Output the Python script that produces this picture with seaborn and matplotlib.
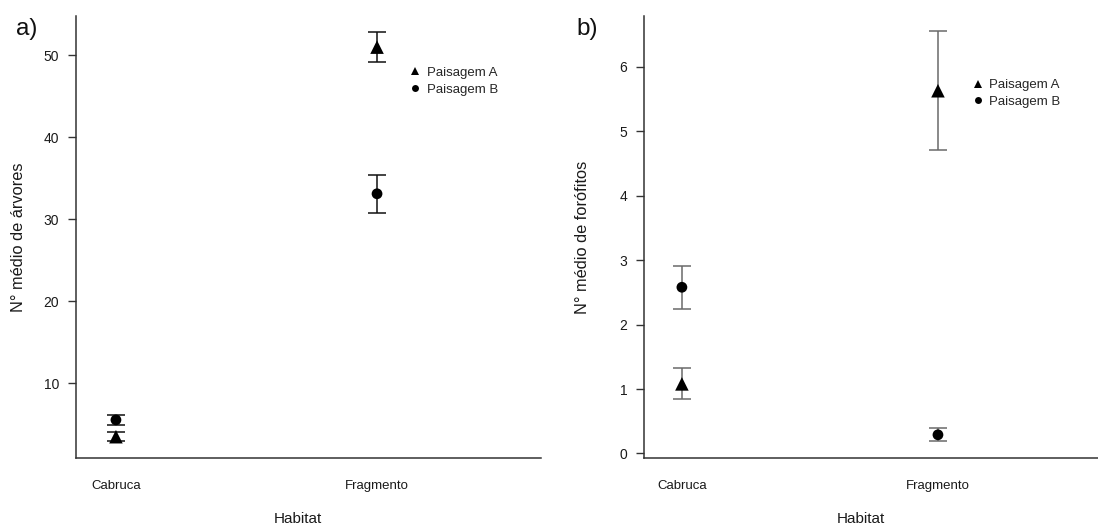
import matplotlib
matplotlib.use("Agg")
import matplotlib.pyplot as plt
from matplotlib.lines import Line2D
import seaborn as sns
import pandas as pd

# ---- data ----
habitats = ["Cabruca", "Fragmento"]
landscapes = ["Paisagem A", "Paisagem B"]

arvores_A_mean = [3.45, 51.0]
arvores_A_err = [0.55, 1.8]
arvores_B_mean = [5.5, 33.1]
arvores_B_err = [0.6, 2.3]

forofitos_A_mean = [1.08, 5.63]
forofitos_A_err = [0.24, 0.92]
forofitos_B_mean = [2.58, 0.29]
forofitos_B_err = [0.33, 0.10]

yticks_a = [10, 20, 30, 40, 50]
yticks_b = [0, 1, 2, 3, 4, 5, 6]

sns.set_theme(style="white")
plt.rcParams["font.family"] = ["Liberation Sans", "DejaVu Sans"]

fig = plt.figure(figsize=(10.98, 5.31), dpi=100)
W, H = 1098, 531

def make_axes(x0, x1, y_top, y_bot):
    return fig.add_axes([x0 / W, (H - y_bot) / H, (x1 - x0) / W, (y_bot - y_top) / H])

ax_a = make_axes(76, 541, 16, 458)
ax_b = make_axes(644, 1098, 16, 458)

markers = {"Paisagem A": "^", "Paisagem B": "o"}
sizes = {"Paisagem A": 95, "Paisagem B": 60}


def panel(ax, a_mean, a_err, b_mean, b_err, err_color, ylim, yticks, xlim,
          ylabel, letter, leg_xy, ylab_x, letter_x):
    df = pd.DataFrame({
        "Habitat": habitats * 2,
        "Paisagem": [landscapes[0]] * 2 + [landscapes[1]] * 2,
        "mean": list(a_mean) + list(b_mean),
        "err": list(a_err) + list(b_err),
    })
    # error bars
    for lab in landscapes:
        sub = df[df["Paisagem"] == lab]
        ax.errorbar(sub["Habitat"], sub["mean"], yerr=sub["err"], fmt="none",
                    ecolor=err_color, elinewidth=1.1, capsize=6.2,
                    capthick=1.1, zorder=2)
    sns.scatterplot(data=df, x="Habitat", y="mean", style="Paisagem",
                    size="Paisagem", sizes=sizes, markers=markers,
                    color="black", edgecolor="none", linewidth=0,
                    legend=False, ax=ax, zorder=3)
    ax.set_xlim(*xlim)
    ax.set_ylim(*ylim)
    ax.set_yticks(yticks)
    ax.set_xticks([0, 1])
    ax.set_xticklabels(habitats)
    for s in ["top", "right"]:
        ax.spines[s].set_visible(False)
    for s in ["left", "bottom"]:
        ax.spines[s].set_color("#333333")
        ax.spines[s].set_linewidth(1.1)
    ax.tick_params(axis="y", which="both", left=True, length=6, width=1,
                   color="#333333", pad=6, labelsize=10, labelcolor="#1a1a1a")
    ax.tick_params(axis="x", which="both", bottom=False, length=0, pad=16,
                   labelsize=9.5, labelcolor="#1a1a1a")
    ax.set_xlabel("Habitat", fontsize=11, color="#1a1a1a")
    ax.set_ylabel(ylabel, fontsize=11.8, color="#1a1a1a")
    ax.xaxis.set_label_coords(0.478, -0.122)
    ax.yaxis.set_label_coords(ylab_x, 0.5)
    ax.grid(False)
    ax.text(letter_x, 0.995, letter,
            transform=ax.transAxes, fontsize=17.5, color="#111111",
            ha="left", va="top")
    handles = [Line2D([], [], linestyle="none", marker=markers[l],
                      color="black", markersize=5.5 if l == "Paisagem A" else 5,
                      markeredgewidth=0) for l in landscapes]
    ax.legend(handles, landscapes, loc="upper left", bbox_to_anchor=leg_xy,
              frameon=False, fontsize=9.5, handlelength=0.6,
              handletextpad=0.6, labelspacing=0.32, borderpad=0,
              borderaxespad=0)


panel(ax_a, arvores_A_mean, arvores_A_err, arvores_B_mean, arvores_B_err,
      "#111111", (0.85, 54.8), yticks_a, (-0.153, 1.628),
      "N° médio de árvores", "a)", (0.72, 0.885), -0.108, -0.13)
panel(ax_b, forofitos_A_mean, forofitos_A_err, forofitos_B_mean,
      forofitos_B_err, "#6a6a6a", (-0.07, 6.79), yticks_b, (-0.148, 1.625),
      "N° médio de forófitos", "b)", (0.726, 0.857), -0.118, -0.148)

fig.savefig("out.png", dpi=100, facecolor="white")
